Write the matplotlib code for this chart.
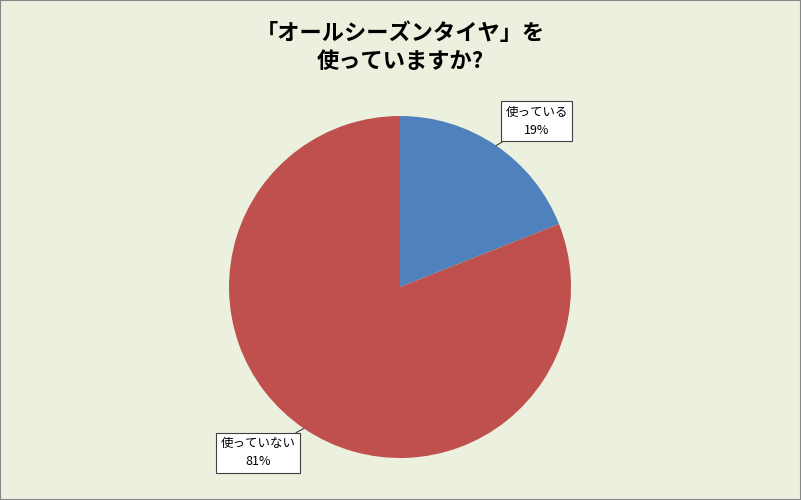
import numpy as np
import matplotlib.pyplot as plt
from matplotlib.patches import Rectangle

plt.rcParams['font.family'] = ['Noto Sans CJK JP', 'DejaVu Sans']

labels = ["使っている", "使っていない"]
shares = [19, 81]
colors = ["#4F81BD", "#C0504D"]
# label box positions (data units, pie radius = 1)
label_pos = [(0.80, 0.97), (-0.83, -0.97)]

fig = plt.figure(figsize=(8.01, 5.0), dpi=100)
fig.patch.set_facecolor("#EBF1DE")
fig.patches.append(Rectangle((0, 0), 1, 1, transform=fig.transFigure,
                             fill=False, edgecolor="#868686", linewidth=1.5))

ax = fig.add_axes([0.2859, 0.084, 0.427, 0.684])
ax.set_facecolor("none")
wedges, _ = ax.pie(shares, colors=colors, startangle=90, counterclock=False,
                   radius=1, wedgeprops=dict(linewidth=0))
ax.set_xlim(-1, 1)
ax.set_ylim(-1, 1)
ax.set_aspect("equal")
ax.axis("off")

for w, lab, s, pos in zip(wedges, labels, shares, label_pos):
    ang = np.deg2rad((w.theta1 + w.theta2) / 2)
    edge = (np.cos(ang), np.sin(ang))
    ax.annotate(f"{lab}\n{s}%", xy=edge, xytext=pos, ha="center", va="center",
                fontsize=9, linespacing=1.5, annotation_clip=False,
                bbox=dict(boxstyle="square,pad=0.35", fc="white", ec="#404040", lw=0.8),
                arrowprops=dict(arrowstyle="-", color="#404040", lw=0.8,
                                shrinkA=0, shrinkB=0))

fig.text(0.5, 0.905, "「オールシーズンタイヤ」を\n使っていますか?", ha="center", va="center",
         fontsize=16, fontweight="bold", linespacing=1.25)

fig.savefig("out.png", dpi=100, facecolor=fig.get_facecolor())
